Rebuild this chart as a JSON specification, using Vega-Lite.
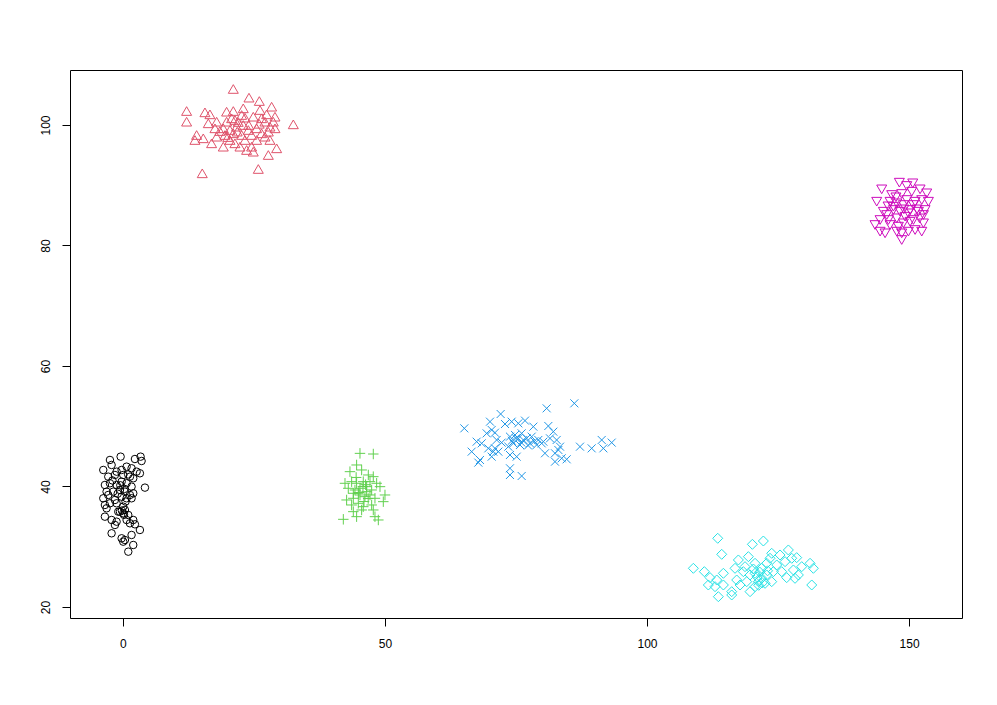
{
  "$schema": "https://vega.github.io/schema/vega-lite/v6.json",
  "width": 892,
  "height": 548,
  "autosize": {"type": "none"},
  "padding": {"left": 70, "top": 70, "right": 35, "bottom": 87},
  "background": "white",
  "config": {
    "view": {"stroke": "black", "strokeWidth": 1},
    "axis": {"domain": false, "grid": false, "tickColor": "black", "tickSize": 8, "tickWidth": 1, "labelColor": "black", "labelFont": "Liberation Sans", "labelFontSize": 12, "title": null}
  },
  "data": {"values": [
    {"g":"a","x":-0.44,"y":44.95},{"g":"a","x":2.29,"y":44.56},{"g":"a","x":3.37,"y":44.95},{"g":"a","x":3.56,"y":44.23},{"g":"a","x":-2.48,"y":44.40},{"g":"a","x":-3.75,"y":42.74},{"g":"a","x":-2.16,"y":43.57},{"g":"a","x":-1.21,"y":42.46},{"g":"a","x":-0.25,"y":42.74},{"g":"a","x":0.70,"y":43.29},{"g":"a","x":1.65,"y":43.02},{"g":"a","x":2.61,"y":42.46},{"g":"a","x":3.24,"y":42.19},{"g":"a","x":-2.80,"y":41.63},{"g":"a","x":-1.53,"y":41.91},{"g":"a","x":0.06,"y":41.91},{"g":"a","x":1.34,"y":41.63},{"g":"a","x":1.97,"y":41.36},{"g":"a","x":-3.44,"y":40.25},{"g":"a","x":-2.48,"y":40.53},{"g":"a","x":-1.21,"y":40.25},{"g":"a","x":-0.25,"y":40.80},{"g":"a","x":0.70,"y":40.53},{"g":"a","x":1.65,"y":39.97},{"g":"a","x":4.20,"y":39.81},{"g":"a","x":-3.12,"y":39.14},{"g":"a","x":-1.85,"y":39.14},{"g":"a","x":-0.57,"y":39.42},{"g":"a","x":0.38,"y":39.14},{"g":"a","x":1.34,"y":38.59},{"g":"a","x":1.97,"y":38.87},{"g":"a","x":-3.75,"y":38.04},{"g":"a","x":-2.80,"y":38.59},{"g":"a","x":-1.53,"y":37.76},{"g":"a","x":-0.25,"y":38.31},{"g":"a","x":0.70,"y":38.04},{"g":"a","x":1.65,"y":38.04},{"g":"a","x":-3.44,"y":36.93},{"g":"a","x":-2.48,"y":37.21},{"g":"a","x":-1.21,"y":37.21},{"g":"a","x":0.06,"y":36.65},{"g":"a","x":0.38,"y":36.10},{"g":"a","x":0.06,"y":35.55},{"g":"a","x":-0.57,"y":35.82},{"g":"a","x":1.02,"y":35.27},{"g":"a","x":-3.44,"y":34.99},{"g":"a","x":-2.16,"y":34.44},{"g":"a","x":-1.21,"y":34.16},{"g":"a","x":-1.53,"y":33.61},{"g":"a","x":0.70,"y":34.44},{"g":"a","x":1.97,"y":34.44},{"g":"a","x":2.29,"y":33.72},{"g":"a","x":1.34,"y":33.89},{"g":"a","x":-2.16,"y":32.23},{"g":"a","x":-0.25,"y":31.40},{"g":"a","x":0.38,"y":31.12},{"g":"a","x":1.65,"y":31.95},{"g":"a","x":1.97,"y":30.29},{"g":"a","x":1.02,"y":29.18},{"g":"a","x":3.24,"y":32.78},{"g":"a","x":0.06,"y":30.84},{"g":"a","x":-0.89,"y":35.82},{"g":"a","x":-3.12,"y":36.38},{"g":"a","x":-0.5,"y":40.2},{"g":"a","x":0.3,"y":39.6},{"g":"a","x":-1.0,"y":38.8},{"g":"a","x":0.5,"y":37.5},{"g":"a","x":-0.2,"y":36.0},{"g":"a","x":0.2,"y":35.3},{"g":"a","x":-2.0,"y":41.0},{"g":"a","x":1.0,"y":42.0},

    {"g":"b","x":21.06,"y":105.98},{"g":"b","x":24.05,"y":104.54},{"g":"b","x":26.02,"y":103.98},{"g":"b","x":28.37,"y":103.04},{"g":"b","x":12.15,"y":102.32},{"g":"b","x":15.65,"y":102.10},{"g":"b","x":16.60,"y":101.77},{"g":"b","x":19.78,"y":102.21},{"g":"b","x":21.06,"y":102.32},{"g":"b","x":22.96,"y":102.77},{"g":"b","x":26.15,"y":102.49},{"g":"b","x":27.42,"y":101.77},{"g":"b","x":29.01,"y":101.38},{"g":"b","x":12.15,"y":100.55},{"g":"b","x":16.29,"y":100.28},{"g":"b","x":17.88,"y":100.55},{"g":"b","x":19.78,"y":100.55},{"g":"b","x":21.37,"y":100.83},{"g":"b","x":23.28,"y":101.22},{"g":"b","x":24.87,"y":101.38},{"g":"b","x":27.10,"y":100.55},{"g":"b","x":28.69,"y":100.55},{"g":"b","x":32.51,"y":100.11},{"g":"b","x":14.06,"y":98.34},{"g":"b","x":15.33,"y":97.79},{"g":"b","x":13.74,"y":97.51},{"g":"b","x":16.92,"y":96.96},{"g":"b","x":17.88,"y":98.06},{"g":"b","x":19.15,"y":99.45},{"g":"b","x":20.42,"y":99.17},{"g":"b","x":21.69,"y":99.72},{"g":"b","x":22.96,"y":100.00},{"g":"b","x":23.92,"y":99.17},{"g":"b","x":25.51,"y":99.45},{"g":"b","x":26.46,"y":98.62},{"g":"b","x":27.74,"y":98.89},{"g":"b","x":29.01,"y":99.45},{"g":"b","x":19.15,"y":96.40},{"g":"b","x":20.42,"y":97.51},{"g":"b","x":21.37,"y":96.96},{"g":"b","x":22.33,"y":96.40},{"g":"b","x":23.60,"y":95.85},{"g":"b","x":24.55,"y":96.40},{"g":"b","x":24.87,"y":95.57},{"g":"b","x":27.10,"y":98.06},{"g":"b","x":28.05,"y":97.51},{"g":"b","x":29.33,"y":96.13},{"g":"b","x":27.74,"y":95.02},{"g":"b","x":25.83,"y":92.70},{"g":"b","x":15.14,"y":91.98},{"g":"b","x":19.47,"y":98.34},{"g":"b","x":22.65,"y":98.34},{"g":"b","x":24.55,"y":98.34},{"g":"b","x":17.56,"y":99.45},{"g":"b","x":20.74,"y":101.11},{"g":"b","x":22.65,"y":101.66},{"g":"b","x":26.46,"y":101.11},{"g":"b","x":28.05,"y":99.72},{"g":"b","x":21.06,"y":98.62},{"g":"b","x":23.28,"y":97.51},{"g":"b","x":25.51,"y":97.51},{"g":"b","x":18.5,"y":99.0},{"g":"b","x":20.0,"y":98.0},{"g":"b","x":21.8,"y":98.9},{"g":"b","x":22.0,"y":100.5},{"g":"b","x":24.0,"y":100.0},{"g":"b","x":26.0,"y":100.2},

    {"g":"c","x":45.23,"y":45.50},{"g":"c","x":47.77,"y":45.39},{"g":"c","x":44.59,"y":43.57},{"g":"c","x":43.32,"y":42.46},{"g":"c","x":45.55,"y":42.74},{"g":"c","x":46.82,"y":41.91},{"g":"c","x":47.77,"y":41.63},{"g":"c","x":42.37,"y":40.53},{"g":"c","x":43.64,"y":40.80},{"g":"c","x":44.59,"y":40.53},{"g":"c","x":45.86,"y":40.80},{"g":"c","x":47.14,"y":40.80},{"g":"c","x":48.41,"y":40.53},{"g":"c","x":43.00,"y":39.70},{"g":"c","x":44.27,"y":39.42},{"g":"c","x":45.23,"y":39.70},{"g":"c","x":46.50,"y":39.97},{"g":"c","x":47.46,"y":39.42},{"g":"c","x":49.05,"y":39.97},{"g":"c","x":42.68,"y":37.76},{"g":"c","x":43.96,"y":38.04},{"g":"c","x":45.23,"y":38.59},{"g":"c","x":46.18,"y":38.31},{"g":"c","x":47.14,"y":38.59},{"g":"c","x":48.09,"y":38.04},{"g":"c","x":50.00,"y":38.59},{"g":"c","x":49.68,"y":37.48},{"g":"c","x":43.64,"y":36.93},{"g":"c","x":44.91,"y":37.21},{"g":"c","x":45.86,"y":36.65},{"g":"c","x":47.46,"y":36.93},{"g":"c","x":43.96,"y":35.82},{"g":"c","x":45.55,"y":36.10},{"g":"c","x":47.77,"y":36.10},{"g":"c","x":42.05,"y":34.55},{"g":"c","x":44.59,"y":34.99},{"g":"c","x":48.09,"y":34.99},{"g":"c","x":48.73,"y":34.44},{"g":"c","x":44.91,"y":38.87},{"g":"c","x":46.50,"y":39.14},{"g":"c","x":43.96,"y":38.87},{"g":"c","x":45.8,"y":40.0},{"g":"c","x":46.3,"y":40.3},{"g":"c","x":45.0,"y":39.0},{"g":"c","x":46.8,"y":38.0},{"g":"c","x":44.5,"y":41.5},{"g":"c","x":46.0,"y":37.5},

    {"g":"d","x":65.14,"y":49.65},{"g":"d","x":72.07,"y":52.03},{"g":"d","x":80.85,"y":52.97},{"g":"d","x":86.13,"y":53.80},{"g":"d","x":70.04,"y":50.76},{"g":"d","x":72.90,"y":50.37},{"g":"d","x":74.17,"y":50.76},{"g":"d","x":75.44,"y":50.48},{"g":"d","x":76.72,"y":50.93},{"g":"d","x":78.31,"y":49.93},{"g":"d","x":81.17,"y":50.04},{"g":"d","x":82.12,"y":49.10},{"g":"d","x":69.40,"y":48.82},{"g":"d","x":70.36,"y":49.38},{"g":"d","x":70.99,"y":48.93},{"g":"d","x":67.49,"y":47.44},{"g":"d","x":68.45,"y":47.16},{"g":"d","x":71.31,"y":47.72},{"g":"d","x":72.26,"y":47.28},{"g":"d","x":73.85,"y":48.27},{"g":"d","x":74.81,"y":48.55},{"g":"d","x":76.08,"y":48.82},{"g":"d","x":77.04,"y":47.99},{"g":"d","x":77.99,"y":48.27},{"g":"d","x":79.26,"y":47.72},{"g":"d","x":80.22,"y":47.44},{"g":"d","x":81.49,"y":47.99},{"g":"d","x":82.76,"y":47.72},{"g":"d","x":66.54,"y":45.78},{"g":"d","x":68.13,"y":44.40},{"g":"d","x":67.81,"y":43.96},{"g":"d","x":70.36,"y":44.95},{"g":"d","x":70.99,"y":46.33},{"g":"d","x":71.63,"y":45.78},{"g":"d","x":73.54,"y":46.61},{"g":"d","x":74.49,"y":47.16},{"g":"d","x":75.76,"y":46.89},{"g":"d","x":77.67,"y":47.16},{"g":"d","x":78.94,"y":46.89},{"g":"d","x":79.90,"y":47.16},{"g":"d","x":83.40,"y":46.61},{"g":"d","x":83.08,"y":46.06},{"g":"d","x":73.85,"y":45.23},{"g":"d","x":75.13,"y":44.95},{"g":"d","x":80.53,"y":45.51},{"g":"d","x":82.44,"y":45.51},{"g":"d","x":83.72,"y":44.68},{"g":"d","x":84.67,"y":44.51},{"g":"d","x":82.44,"y":44.12},{"g":"d","x":73.85,"y":43.02},{"g":"d","x":73.85,"y":41.91},{"g":"d","x":76.08,"y":41.74},{"g":"d","x":87.21,"y":46.61},{"g":"d","x":89.44,"y":46.33},{"g":"d","x":91.35,"y":47.72},{"g":"d","x":91.67,"y":46.33},{"g":"d","x":93.26,"y":47.28},{"g":"d","x":69.72,"y":46.33},{"g":"d","x":70.67,"y":45.78},{"g":"d","x":75.44,"y":47.99},{"g":"d","x":76.40,"y":47.72},{"g":"d","x":75.0,"y":48.0},{"g":"d","x":76.0,"y":47.3},{"g":"d","x":77.3,"y":46.8},{"g":"d","x":74.2,"y":47.6},{"g":"d","x":78.5,"y":47.5},

    {"g":"e","x":113.49,"y":31.40},{"g":"e","x":120.10,"y":30.40},{"g":"e","x":122.20,"y":30.95},{"g":"e","x":114.25,"y":28.74},{"g":"e","x":108.84,"y":26.42},{"g":"e","x":110.94,"y":25.86},{"g":"e","x":112.02,"y":24.87},{"g":"e","x":113.30,"y":24.48},{"g":"e","x":114.57,"y":25.59},{"g":"e","x":111.70,"y":23.65},{"g":"e","x":112.98,"y":23.37},{"g":"e","x":114.57,"y":23.65},{"g":"e","x":113.61,"y":21.71},{"g":"e","x":116.16,"y":21.99},{"g":"e","x":116.79,"y":26.42},{"g":"e","x":117.43,"y":27.80},{"g":"e","x":119.34,"y":28.35},{"g":"e","x":120.61,"y":27.25},{"g":"e","x":117.11,"y":24.48},{"g":"e","x":117.75,"y":23.65},{"g":"e","x":118.70,"y":26.69},{"g":"e","x":119.66,"y":25.31},{"g":"e","x":120.61,"y":25.59},{"g":"e","x":121.25,"y":24.20},{"g":"e","x":121.88,"y":26.42},{"g":"e","x":122.84,"y":27.25},{"g":"e","x":123.79,"y":28.91},{"g":"e","x":123.47,"y":28.08},{"g":"e","x":124.75,"y":26.97},{"g":"e","x":125.38,"y":28.63},{"g":"e","x":126.97,"y":29.46},{"g":"e","x":126.34,"y":27.52},{"g":"e","x":127.61,"y":28.08},{"g":"e","x":128.56,"y":28.19},{"g":"e","x":125.70,"y":25.86},{"g":"e","x":126.65,"y":24.87},{"g":"e","x":127.93,"y":26.14},{"g":"e","x":128.88,"y":25.31},{"g":"e","x":129.52,"y":26.69},{"g":"e","x":131.11,"y":27.25},{"g":"e","x":131.74,"y":26.42},{"g":"e","x":131.43,"y":23.65},{"g":"e","x":119.66,"y":22.54},{"g":"e","x":120.61,"y":23.37},{"g":"e","x":122.52,"y":23.93},{"g":"e","x":122.84,"y":25.31},{"g":"e","x":124.11,"y":25.86},{"g":"e","x":123.79,"y":24.20},{"g":"e","x":119.02,"y":24.20},{"g":"e","x":121.88,"y":24.76},{"g":"e","x":116.16,"y":22.54},{"g":"e","x":118.38,"y":25.86},{"g":"e","x":128.24,"y":24.76},{"g":"e","x":121.0,"y":25.0},{"g":"e","x":121.5,"y":25.8},{"g":"e","x":122.0,"y":24.0},{"g":"e","x":120.3,"y":26.3},{"g":"e","x":123.0,"y":26.0},{"g":"e","x":121.3,"y":23.6},

    {"g":"f","x":148.15,"y":90.43},{"g":"f","x":150.70,"y":90.32},{"g":"f","x":149.56,"y":89.88},{"g":"f","x":144.78,"y":89.32},{"g":"f","x":146.69,"y":88.38},{"g":"f","x":148.60,"y":88.55},{"g":"f","x":150.51,"y":88.93},{"g":"f","x":152.10,"y":89.32},{"g":"f","x":153.37,"y":88.66},{"g":"f","x":143.83,"y":87.27},{"g":"f","x":146.37,"y":87.27},{"g":"f","x":147.65,"y":87.00},{"g":"f","x":149.56,"y":87.55},{"g":"f","x":151.15,"y":87.27},{"g":"f","x":152.42,"y":87.55},{"g":"f","x":153.69,"y":87.27},{"g":"f","x":145.10,"y":85.61},{"g":"f","x":147.01,"y":85.89},{"g":"f","x":148.28,"y":85.61},{"g":"f","x":150.19,"y":85.89},{"g":"f","x":151.78,"y":85.61},{"g":"f","x":153.05,"y":85.89},{"g":"f","x":144.47,"y":84.23},{"g":"f","x":146.06,"y":84.23},{"g":"f","x":147.65,"y":84.51},{"g":"f","x":149.24,"y":84.78},{"g":"f","x":150.83,"y":84.23},{"g":"f","x":152.74,"y":85.06},{"g":"f","x":146.37,"y":83.40},{"g":"f","x":148.92,"y":83.68},{"g":"f","x":150.19,"y":83.95},{"g":"f","x":152.74,"y":83.68},{"g":"f","x":143.51,"y":83.40},{"g":"f","x":144.47,"y":82.30},{"g":"f","x":145.42,"y":82.02},{"g":"f","x":147.65,"y":82.30},{"g":"f","x":148.60,"y":82.02},{"g":"f","x":149.87,"y":82.30},{"g":"f","x":151.15,"y":82.57},{"g":"f","x":152.42,"y":82.30},{"g":"f","x":148.60,"y":80.91},{"g":"f","x":147.01,"y":86.44},{"g":"f","x":148.92,"y":86.72},{"g":"f","x":150.83,"y":86.72},{"g":"f","x":145.74,"y":85.06},{"g":"f","x":149.87,"y":85.34},{"g":"f","x":147.96,"y":83.13},{"g":"f","x":146.0,"y":86.5},{"g":"f","x":151.5,"y":86.0},{"g":"f","x":149.0,"y":86.0},{"g":"f","x":152.0,"y":84.5},{"g":"f","x":147.5,"y":88.0}
  ]},
  "encoding": {
    "x": {"field": "x", "type": "quantitative", "scale": {"domain": [-10.1, 160.1], "nice": false, "zero": false}, "axis": {"values": [0, 50, 100, 150], "labelPadding": 12}},
    "y": {"field": "y", "type": "quantitative", "scale": {"domain": [18.17, 109.13], "nice": false, "zero": false}, "axis": {"values": [20, 40, 60, 80, 100], "labelAngle": -90, "labelPadding": 10}}
  },
  "layer": [
    {"transform": [{"filter": "datum.g === 'a'"}], "mark": {"type": "point", "shape": "circle", "filled": false, "stroke": "#000000", "strokeWidth": 1, "size": 56, "opacity": 1}},
    {"transform": [{"filter": "datum.g === 'b'"}], "mark": {"type": "point", "shape": "triangle-up", "filled": false, "stroke": "#DF536B", "strokeWidth": 1, "size": 100, "opacity": 1}},
    {"transform": [{"filter": "datum.g === 'c'"}], "mark": {"type": "point", "shape": "M-1,0H1M0,-1V1", "filled": false, "stroke": "#61D04F", "strokeWidth": 1, "size": 110, "opacity": 1}},
    {"transform": [{"filter": "datum.g === 'd'"}], "mark": {"type": "point", "shape": "M-1,-1L1,1M-1,1L1,-1", "filled": false, "stroke": "#2297E6", "strokeWidth": 1, "size": 64, "opacity": 1}},
    {"transform": [{"filter": "datum.g === 'e'"}], "mark": {"type": "point", "shape": "diamond", "filled": false, "stroke": "#28E2E5", "strokeWidth": 1, "size": 100, "opacity": 1}},
    {"transform": [{"filter": "datum.g === 'f'"}], "mark": {"type": "point", "shape": "triangle-down", "filled": false, "stroke": "#CD0BBC", "strokeWidth": 1, "size": 100, "opacity": 1}}
  ]
}
